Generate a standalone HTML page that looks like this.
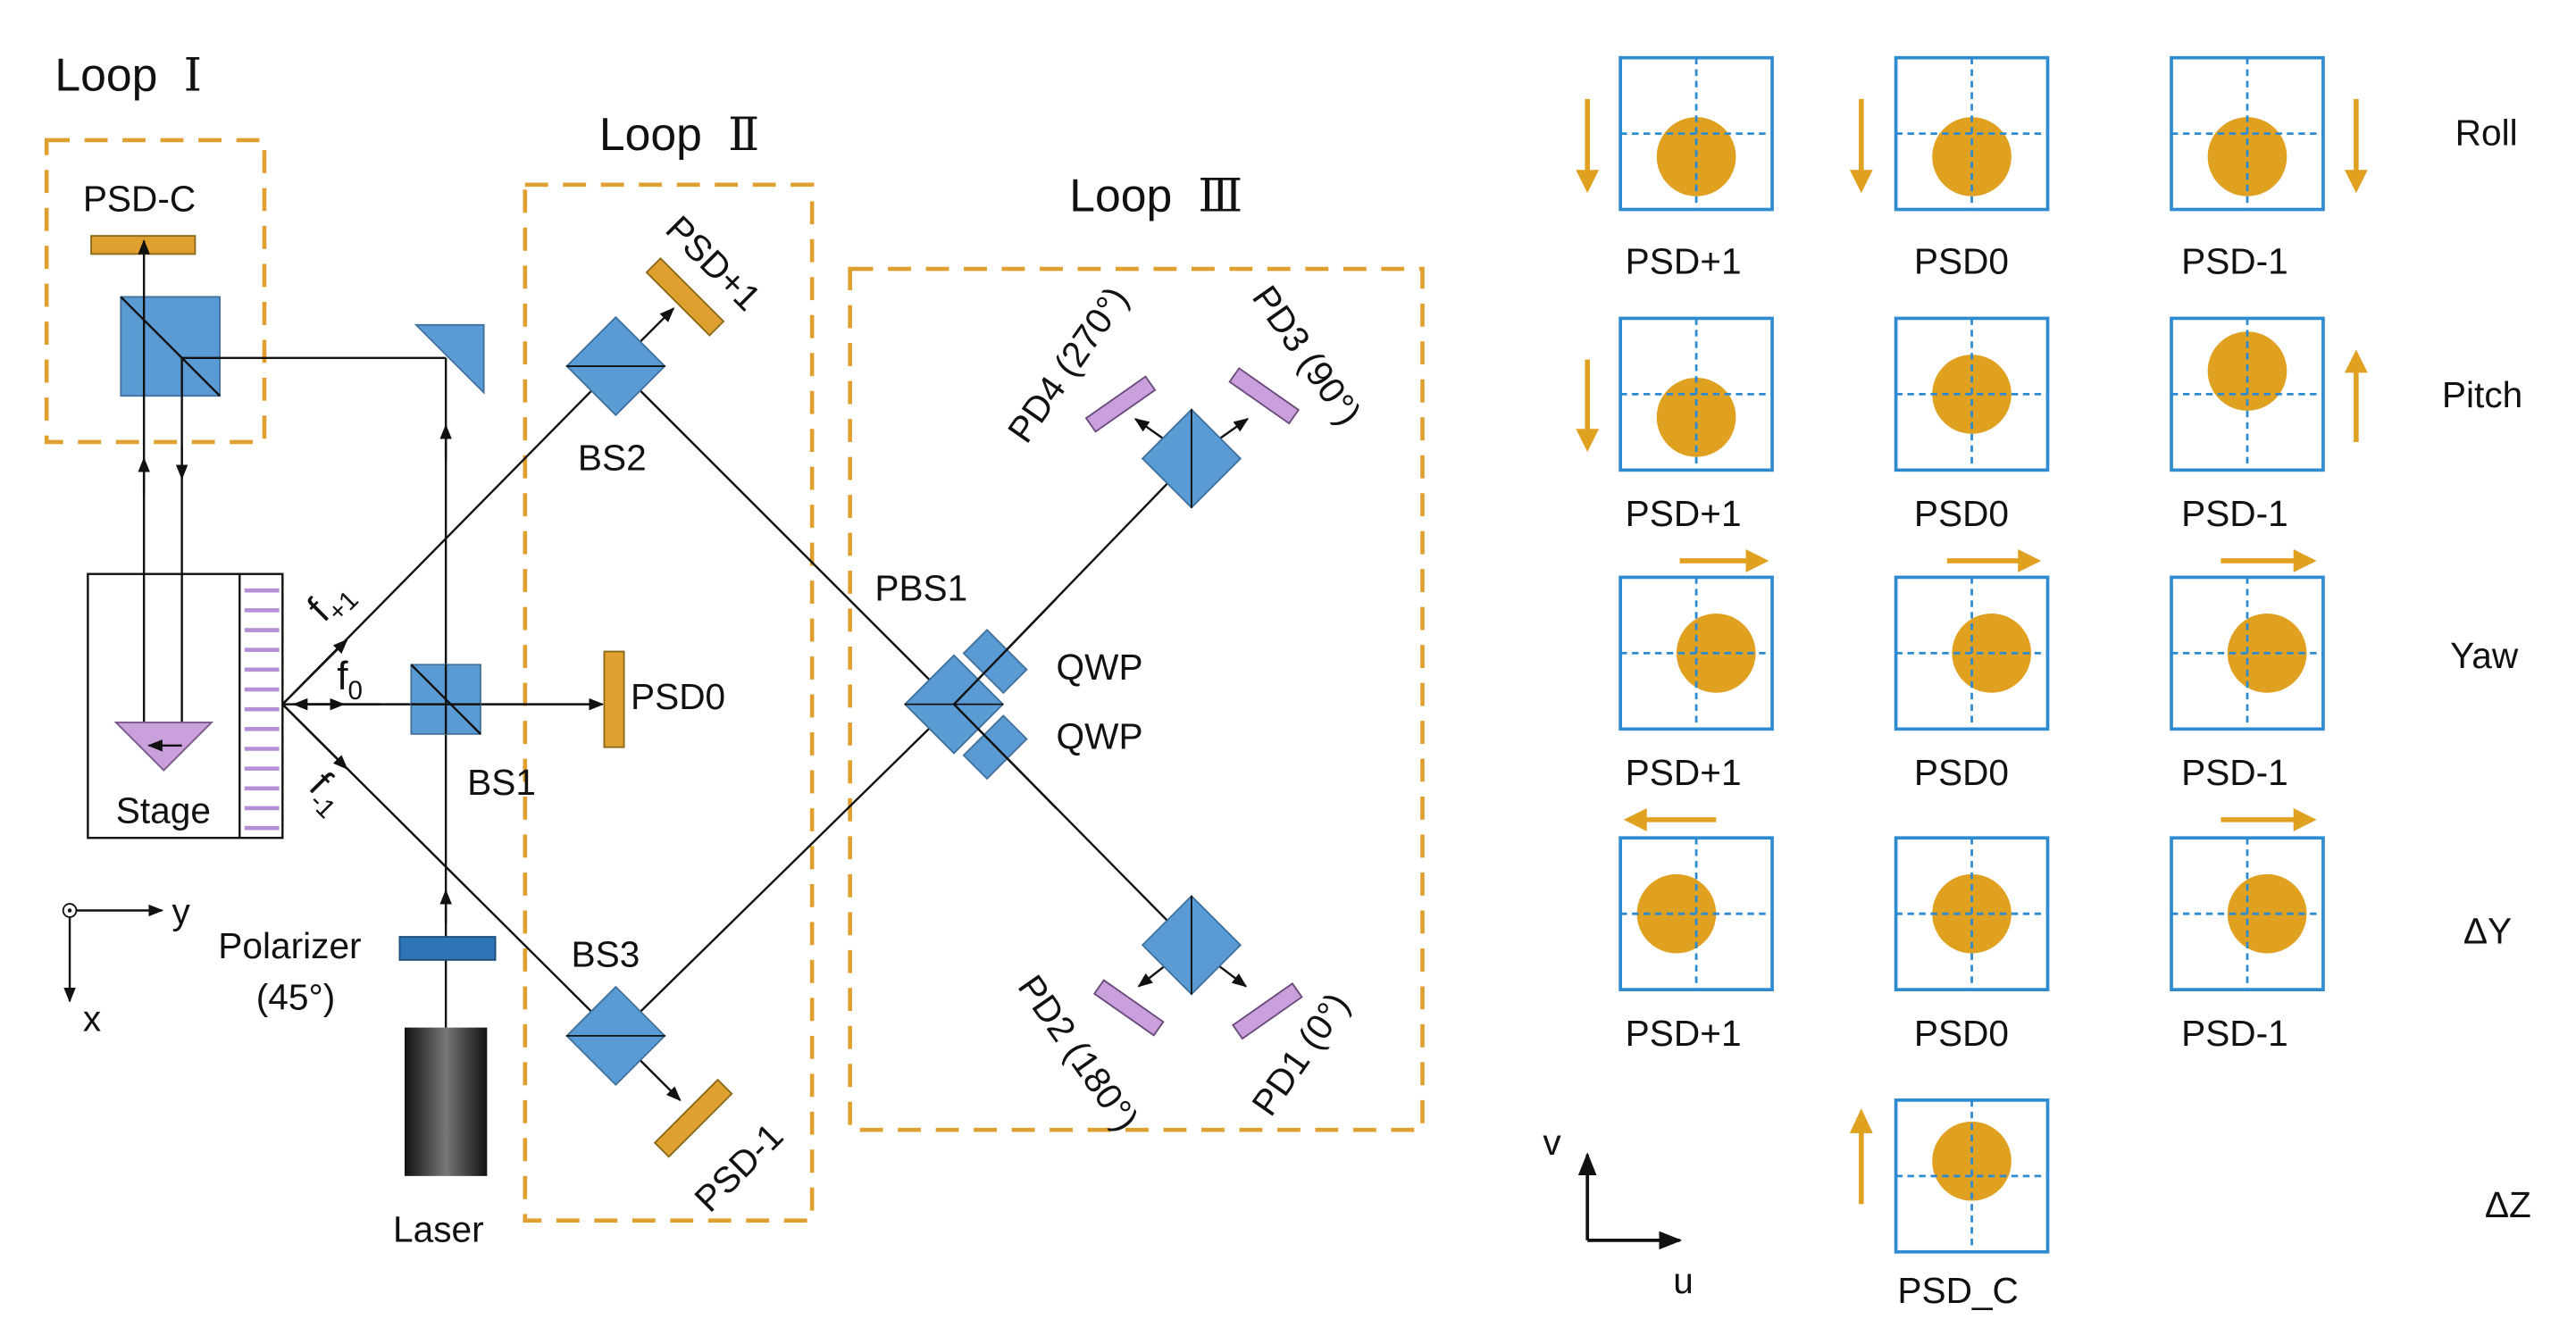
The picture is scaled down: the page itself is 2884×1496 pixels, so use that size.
<!DOCTYPE html>
<html><head><meta charset="utf-8"><style>
html,body{margin:0;padding:0;background:#fff;}
svg{display:block;}
text{font-family:"Liberation Sans",sans-serif;fill:#111;}
.rn{font-family:"Liberation Serif","DejaVu Serif",serif;}
</style></head><body>
<svg width="2884" height="1496" viewBox="0 0 1561 810" xmlns="http://www.w3.org/2000/svg">
<defs>
<marker id="a" viewBox="0 0 10 10" refX="9" refY="5" markerWidth="7" markerHeight="7" orient="auto-start-reverse"><path d="M0,1 L10,5 L0,9 z" fill="#111"/></marker>
<linearGradient id="lg" x1="0" x2="1"><stop offset="0" stop-color="#111"/><stop offset="0.5" stop-color="#777"/><stop offset="1" stop-color="#111"/></linearGradient>
<g id="cub"><rect x="-21" y="-21" width="42" height="42" fill="#5B9BD5" stroke="#41719C"/></g>
</defs>
<g stroke="#E0A030" stroke-width="2.5" stroke-dasharray="14,9" fill="none">
<rect x="28" y="85" width="132" height="183"/>
<rect x="318" y="112" width="174" height="628"/>
<rect x="515" y="163" width="347" height="522"/>
</g>
<text x="33" y="55" font-size="28">Loop <tspan class="rn" dx="8">Ⅰ</tspan></text>
<text x="363" y="91" font-size="28">Loop <tspan class="rn" dx="8">Ⅱ</tspan></text>
<text x="648" y="128" font-size="28">Loop <tspan class="rn" dx="8">Ⅲ</tspan></text>
<!-- Loop I -->
<text x="50" y="128" font-size="22">PSD-C</text>
<rect x="55" y="143" width="63" height="11" fill="#E0A030" stroke="#8a6a1a" stroke-width="1"/>
<rect x="73" y="180" width="60" height="60" fill="#5B9BD5" stroke="#41719C"/>
<line x1="73" y1="180" x2="133" y2="240" stroke="#111" stroke-width="1.3"/>
<g stroke="#111" stroke-width="1.3" fill="none">
<line x1="87" y1="450" x2="87" y2="146" marker-end="url(#a)"/>
<line x1="87" y1="300" x2="87" y2="278" marker-end="url(#a)"/>
<line x1="110" y1="217" x2="110" y2="452"/>
<line x1="110" y1="270" x2="110" y2="290" marker-end="url(#a)"/>
<line x1="110" y1="217" x2="270" y2="217"/>
<line x1="270" y1="623" x2="270" y2="217"/>
<line x1="270" y1="280" x2="270" y2="258" marker-end="url(#a)"/>
<line x1="270" y1="560" x2="270" y2="540" marker-end="url(#a)"/>
</g>
<polygon points="252,197 293,197 293,238" fill="#5B9BD5" stroke="#41719C"/>
<!-- Stage -->
<rect x="53" y="348" width="118" height="160" fill="none" stroke="#111" stroke-width="1.3"/>
<line x1="145" y1="348" x2="145" y2="508" stroke="#111" stroke-width="1.3"/>
<g stroke="#B48ED6" stroke-width="2.5">
<line x1="148" y1="358" x2="169" y2="358"/><line x1="148" y1="370" x2="169" y2="370"/><line x1="148" y1="382" x2="169" y2="382"/><line x1="148" y1="394" x2="169" y2="394"/><line x1="148" y1="406" x2="169" y2="406"/><line x1="148" y1="418" x2="169" y2="418"/><line x1="148" y1="430" x2="169" y2="430"/><line x1="148" y1="442" x2="169" y2="442"/><line x1="148" y1="454" x2="169" y2="454"/><line x1="148" y1="466" x2="169" y2="466"/><line x1="148" y1="478" x2="169" y2="478"/><line x1="148" y1="490" x2="169" y2="490"/><line x1="148" y1="502" x2="169" y2="502"/>
</g>
<polygon points="70,438 128,438 99,467" fill="#C9A0DC" stroke="#7a5a8a"/>
<line x1="110" y1="452" x2="90" y2="452" stroke="#111" stroke-width="1.3" marker-end="url(#a)"/>
<text x="70" y="499" font-size="22">Stage</text>
<!-- beams from grating -->
<g stroke="#111" stroke-width="1.3" fill="none">
<line x1="171" y1="427" x2="373" y2="222"/>
<line x1="171" y1="427" x2="210" y2="388" marker-end="url(#a)"/>
<line x1="171" y1="427" x2="365" y2="427" marker-end="url(#a)"/>
<line x1="230" y1="427" x2="178" y2="427" marker-end="url(#a)"/>
<line x1="185" y1="427" x2="208" y2="427" marker-end="url(#a)"/>
<line x1="171" y1="427" x2="373" y2="628"/>
<line x1="171" y1="427" x2="210" y2="466" marker-end="url(#a)"/>
<line x1="373" y1="222" x2="578" y2="427"/>
<line x1="373" y1="628" x2="578" y2="427"/>
<line x1="373" y1="222" x2="408" y2="187" marker-end="url(#a)"/>
<line x1="373" y1="628" x2="412" y2="667" marker-end="url(#a)"/>
</g>
<text x="0" y="0" font-size="24" transform="translate(196,378) rotate(-45)">f<tspan font-size="16" dy="6">+1</tspan></text>
<text x="204" y="418" font-size="24">f<tspan font-size="16" dy="6">0</tspan></text>
<text x="0" y="0" font-size="24" transform="translate(186,478) rotate(45)">f<tspan font-size="16" dy="6">-1</tspan></text>
<!-- BS1 -->
<rect x="249" y="403" width="42" height="42" fill="#5B9BD5" stroke="#41719C"/>
<line x1="249" y1="403" x2="291" y2="445" stroke="#111" stroke-width="1.3"/>
<line x1="270" y1="403" x2="270" y2="445" stroke="#111" stroke-width="1.3"/>
<line x1="249" y1="427" x2="291" y2="427" stroke="#111" stroke-width="1.3"/>
<text x="283" y="482" font-size="22">BS1</text>
<rect x="366" y="395" width="12" height="58" fill="#E0A030" stroke="#8a6a1a"/>
<text x="382" y="430" font-size="22">PSD0</text>
<!-- BS2 / BS3 -->
<g transform="translate(373,222) rotate(45)"><use href="#cub"/></g>
<line x1="343" y1="222" x2="403" y2="222" stroke="#111" stroke-width="1"/>
<text x="350" y="285" font-size="22">BS2</text>
<g transform="translate(373,628) rotate(45)"><use href="#cub"/></g>
<line x1="343" y1="628" x2="403" y2="628" stroke="#111" stroke-width="1"/>
<text x="346" y="586" font-size="22">BS3</text>
<rect x="-27" y="-6" width="54" height="12" fill="#E0A030" stroke="#8a6a1a" transform="translate(415,180) rotate(45)"/>
<text font-size="22" transform="translate(402,140) rotate(45)">PSD+1</text>
<rect x="-27" y="-6" width="54" height="12" fill="#E0A030" stroke="#8a6a1a" transform="translate(420,678) rotate(-45)"/>
<text font-size="22" transform="translate(430,736) rotate(-45)">PSD-1</text>
<!-- Polarizer / laser -->
<rect x="242" y="568" width="58" height="14" fill="#2E75B6" stroke="#1f4e79"/>
<text x="132" y="581" font-size="22">Polarizer</text>
<text x="155" y="612" font-size="22">(45°)</text>
<rect x="245" y="623" width="50" height="90" fill="url(#lg)"/>
<text x="238" y="753" font-size="22">Laser</text>
<!-- xy axes -->
<circle cx="42" cy="552" r="4" fill="none" stroke="#111"/><circle cx="42" cy="552" r="1.2" fill="#111"/>
<line x1="46" y1="552" x2="98" y2="552" stroke="#111" stroke-width="1.3" marker-end="url(#a)"/>
<line x1="42" y1="556" x2="42" y2="607" stroke="#111" stroke-width="1.3" marker-end="url(#a)"/>
<text x="104" y="560" font-size="22">y</text>
<text x="50" y="625" font-size="22">x</text>
<!-- Loop III -->
<g stroke="#111" stroke-width="1.3" fill="none">
<line x1="578" y1="427" x2="722" y2="278"/>
<line x1="578" y1="427" x2="722" y2="573"/>
<line x1="722" y1="278" x2="688" y2="254" marker-end="url(#a)"/>
<line x1="722" y1="278" x2="756" y2="254" marker-end="url(#a)"/>
<line x1="722" y1="573" x2="690" y2="598" marker-end="url(#a)"/>
<line x1="722" y1="573" x2="755" y2="598" marker-end="url(#a)"/>
</g>
<g transform="translate(578,427) rotate(45)"><use href="#cub"/></g>
<line x1="548" y1="427" x2="608" y2="427" stroke="#111" stroke-width="1"/>
<rect x="-17" y="-10" width="34" height="20" fill="#5B9BD5" stroke="#41719C" transform="translate(603,401) rotate(45)"/>
<rect x="-17" y="-10" width="34" height="20" fill="#5B9BD5" stroke="#41719C" transform="translate(603,453) rotate(-45)"/>
<line x1="578" y1="427" x2="640" y2="363" stroke="#111" stroke-width="1.3"/>
<line x1="578" y1="427" x2="640" y2="490" stroke="#111" stroke-width="1.3"/>
<text x="530" y="364" font-size="22">PBS1</text>
<text x="640" y="412" font-size="22">QWP</text>
<text x="640" y="454" font-size="22">QWP</text>
<g transform="translate(722,278) rotate(45)"><use href="#cub"/></g>
<line x1="722" y1="248" x2="722" y2="308" stroke="#111" stroke-width="1"/>
<g transform="translate(722,573) rotate(45)"><use href="#cub"/></g>
<line x1="722" y1="543" x2="722" y2="603" stroke="#111" stroke-width="1"/>
<g fill="#C9A0DC" stroke="#6a4a7a">
<rect x="-22" y="-5" width="44" height="10" transform="translate(679,245) rotate(-35)"/>
<rect x="-22" y="-5" width="44" height="10" transform="translate(766,240) rotate(35)"/>
<rect x="-22" y="-5" width="44" height="10" transform="translate(684,611) rotate(35)"/>
<rect x="-22" y="-5" width="44" height="10" transform="translate(768,613) rotate(-35)"/>
</g>
<text font-size="22" transform="translate(622,270) rotate(-55)">PD4 (270°)</text>
<text font-size="22" transform="translate(758,180) rotate(55)">PD3 (90°)</text>
<text font-size="22" transform="translate(616,598) rotate(55)">PD2 (180°)</text>
<text font-size="22" transform="translate(770,678) rotate(-55)">PD1 (0°)</text>
<!-- Right panel -->
<g fill="none" stroke="#2E8BD0" stroke-width="2">
<rect x="982" y="35" width="92" height="92"/><rect x="1149" y="35" width="92" height="92"/><rect x="1316" y="35" width="92" height="92"/>
<rect x="982" y="193" width="92" height="92"/><rect x="1149" y="193" width="92" height="92"/><rect x="1316" y="193" width="92" height="92"/>
<rect x="982" y="350" width="92" height="92"/><rect x="1149" y="350" width="92" height="92"/><rect x="1316" y="350" width="92" height="92"/>
<rect x="982" y="508" width="92" height="92"/><rect x="1149" y="508" width="92" height="92"/><rect x="1316" y="508" width="92" height="92"/>
<rect x="1149" y="667" width="92" height="92"/>
</g>
<g fill="#E0A020">
<circle cx="1028" cy="95" r="24"/><circle cx="1195" cy="95" r="24"/><circle cx="1362" cy="95" r="24"/>
<circle cx="1028" cy="253" r="24"/><circle cx="1195" cy="239" r="24"/><circle cx="1362" cy="225" r="24"/>
<circle cx="1040" cy="396" r="24"/><circle cx="1207" cy="396" r="24"/><circle cx="1374" cy="396" r="24"/>
<circle cx="1016" cy="554" r="24"/><circle cx="1195" cy="554" r="24"/><circle cx="1374" cy="554" r="24"/>
<circle cx="1195" cy="704" r="24"/>
</g>
<g stroke="#2E8BD0" stroke-width="1.5" stroke-dasharray="4,3">
<line x1="982" y1="81" x2="1074" y2="81"/><line x1="1028" y1="35" x2="1028" y2="127"/>
<line x1="1149" y1="81" x2="1241" y2="81"/><line x1="1195" y1="35" x2="1195" y2="127"/>
<line x1="1316" y1="81" x2="1408" y2="81"/><line x1="1362" y1="35" x2="1362" y2="127"/>
<line x1="982" y1="239" x2="1074" y2="239"/><line x1="1028" y1="193" x2="1028" y2="285"/>
<line x1="1149" y1="239" x2="1241" y2="239"/><line x1="1195" y1="193" x2="1195" y2="285"/>
<line x1="1316" y1="239" x2="1408" y2="239"/><line x1="1362" y1="193" x2="1362" y2="285"/>
<line x1="982" y1="396" x2="1074" y2="396"/><line x1="1028" y1="350" x2="1028" y2="442"/>
<line x1="1149" y1="396" x2="1241" y2="396"/><line x1="1195" y1="350" x2="1195" y2="442"/>
<line x1="1316" y1="396" x2="1408" y2="396"/><line x1="1362" y1="350" x2="1362" y2="442"/>
<line x1="982" y1="554" x2="1074" y2="554"/><line x1="1028" y1="508" x2="1028" y2="600"/>
<line x1="1149" y1="554" x2="1241" y2="554"/><line x1="1195" y1="508" x2="1195" y2="600"/>
<line x1="1316" y1="554" x2="1408" y2="554"/><line x1="1362" y1="508" x2="1362" y2="600"/>
<line x1="1149" y1="713" x2="1241" y2="713"/><line x1="1195" y1="667" x2="1195" y2="759"/>
</g>
<g stroke="#E0A020" stroke-width="3" fill="#E0A020">
<line x1="962" y1="60" x2="962" y2="105"/><polygon points="955,103 969,103 962,117" stroke="none"/>
<line x1="1128" y1="60" x2="1128" y2="105"/><polygon points="1121,103 1135,103 1128,117" stroke="none"/>
<line x1="1428" y1="60" x2="1428" y2="105"/><polygon points="1421,103 1435,103 1428,117" stroke="none"/>
<line x1="962" y1="218" x2="962" y2="262"/><polygon points="955,260 969,260 962,274" stroke="none"/>
<line x1="1428" y1="268" x2="1428" y2="224"/><polygon points="1421,226 1435,226 1428,212" stroke="none"/>
<line x1="1018" y1="340" x2="1060" y2="340"/><polygon points="1058,333 1058,347 1072,340" stroke="none"/>
<line x1="1180" y1="340" x2="1225" y2="340"/><polygon points="1223,333 1223,347 1237,340" stroke="none"/>
<line x1="1346" y1="340" x2="1392" y2="340"/><polygon points="1390,333 1390,347 1404,340" stroke="none"/>
<line x1="1040" y1="497" x2="996" y2="497"/><polygon points="998,490 998,504 984,497" stroke="none"/>
<line x1="1346" y1="497" x2="1392" y2="497"/><polygon points="1390,490 1390,504 1404,497" stroke="none"/>
<line x1="1128" y1="730" x2="1128" y2="685"/><polygon points="1121,687 1135,687 1128,672" stroke="none"/>
</g>
<g font-size="22">
<text x="985" y="166">PSD+1</text><text x="1160" y="166">PSD0</text><text x="1322" y="166">PSD-1</text>
<text x="985" y="319">PSD+1</text><text x="1160" y="319">PSD0</text><text x="1322" y="319">PSD-1</text>
<text x="985" y="476">PSD+1</text><text x="1160" y="476">PSD0</text><text x="1322" y="476">PSD-1</text>
<text x="985" y="634">PSD+1</text><text x="1160" y="634">PSD0</text><text x="1322" y="634">PSD-1</text>
<text x="1150" y="790">PSD_C</text>
<text x="1488" y="88">Roll</text>
<text x="1480" y="247">Pitch</text>
<text x="1485" y="405">Yaw</text>
<text x="1493" y="572">ΔY</text>
<text x="1506" y="738">ΔZ</text>
<text x="935" y="700">v</text>
<text x="1014" y="784">u</text>
</g>
<line x1="962" y1="752" x2="962" y2="700" stroke="#111" stroke-width="2" marker-end="url(#a)"/>
<line x1="962" y1="752" x2="1018" y2="752" stroke="#111" stroke-width="2" marker-end="url(#a)"/>
</svg>
</body></html>
